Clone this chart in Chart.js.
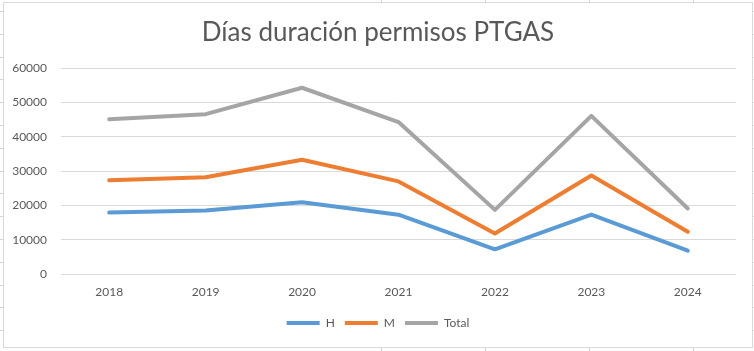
<!DOCTYPE html>
<html>
<head>
<meta charset="utf-8">
<script src="https://cdn.jsdelivr.net/npm/chart.js@4.4.1/dist/chart.umd.min.js"></script>
<style>
  html, body { margin: 0; padding: 0; }
  body {
    width: 754px; height: 351px; position: relative; overflow: hidden;
    background-color: #fff;
    background-image: repeating-linear-gradient(to bottom, transparent 0px, transparent 11px, #d4d4d4 11px, #d4d4d4 12px, transparent 12px, transparent 22.8px);
  }
  .col { position: absolute; top: 0; width: 1px; height: 351px; background: #d4d4d4; }
  #box {
    position: absolute; left: 3px; top: 2px; width: 748px; height: 344px;
    background: #fff; border: 1px solid #d9d9d9;
  }
  canvas { display: block; }
</style>
</head>
<body>
<div class="col" style="left:381px"></div>
<div class="col" style="left:485px"></div>
<div class="col" style="left:589px"></div>
<div class="col" style="left:693px"></div>
<div id="box"><canvas id="c" width="748" height="344"></canvas></div>
<script>
const categories = ["2018", "2019", "2020", "2021", "2022", "2023", "2024"];
const seriesH = [17900, 18500, 20900, 17300, 7200, 17300, 6800];
const seriesM = [27300, 28200, 33300, 27000, 11800, 28700, 12300];
const seriesTotal = [45100, 46600, 54300, 44300, 18700, 46100, 19100];
const yTicks = [0, 10000, 20000, 30000, 40000, 50000, 60000];

const FONT = "Lato, 'Open Sans', sans-serif";
const TXT = "#595959";

function ds(label, data, color) {
  return { label, data, borderColor: color, backgroundColor: color,
           pointBorderColor: color, pointBackgroundColor: color, pointBorderWidth: 4 };
}

new Chart(document.getElementById("c"), {
  type: "line",
  data: {
    labels: categories,
    datasets: [
      ds("H", seriesH, "#5B9BD5"),
      ds("M", seriesM, "#ED7D31"),
      ds("Total", seriesTotal, "#A5A5A5")
    ]
  },
  options: {
    responsive: false,
    animation: false,
    devicePixelRatio: 1,
    layout: { padding: { left: 0, right: 0, top: 12, bottom: 8 } },
    elements: {
      line: { borderWidth: 4, tension: 0, borderCapStyle: "round", borderJoinStyle: "round" },
      point: { radius: 0, hoverRadius: 0 }
    },
    plugins: {
      title: {
        display: true, text: "Días duración permisos PTGAS",
        color: TXT, font: { family: FONT, size: 26, weight: "normal" },
        padding: { top: 2, bottom: 20 }
      },
      legend: {
        position: "bottom",
        labels: {
          usePointStyle: true, pointStyle: "line", pointStyleWidth: 33,
          color: TXT, font: { family: FONT, size: 12 }, padding: 10
        }
      },
      tooltip: { enabled: false }
    },
    scales: {
      x: {
        offset: true,
        grid: { display: false, drawTicks: false },
        border: { display: false },
        ticks: { color: TXT, font: { family: FONT, size: 12 }, padding: 11, maxRotation: 0 },
        afterFit: (s) => { s.height = 33; }
      },
      y: {
        min: 0, max: 60000,
        afterBuildTicks: (s) => { s.ticks = yTicks.map(v => ({ value: v })); },
        grid: { color: "#D9D9D9", lineWidth: 1, drawTicks: false },
        border: { display: false },
        ticks: { color: TXT, font: { family: FONT, size: 12 }, padding: 14, callback: (v) => String(v) },
        afterFit: (s) => { s.width = 57; }
      },
      yRight: {
        position: "right",
        display: true,
        grid: { display: false, drawTicks: false },
        border: { display: false },
        ticks: { display: false },
        afterFit: (s) => { s.width = 16; }
      }
    }
  }
});
</script>
</body>
</html>
